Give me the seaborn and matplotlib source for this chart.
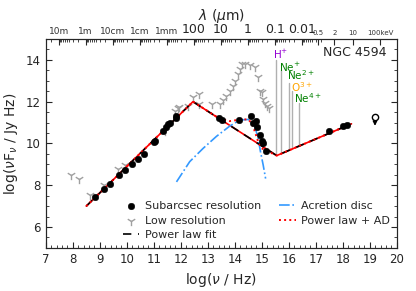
import numpy as np
import pandas as pd
import matplotlib
matplotlib.use("Agg")
import matplotlib.pyplot as plt
import seaborn as sns

# subarcsec resolution photometry
sub_lognu = [8.81, 9.16, 9.37, 9.70, 9.95, 10.21, 10.40, 10.65, 11.00, 11.04,
             11.34, 11.44, 11.53, 11.59, 11.84, 11.84, 13.42, 13.54, 14.16, 14.59,
             14.68, 14.78, 14.83, 14.93, 14.99, 15.05, 15.15, 17.49, 18.01, 18.17]
sub_lognuf = [7.43, 7.83, 8.07, 8.48, 8.75, 9.04, 9.24, 9.51, 10.05, 10.13,
              10.62, 10.78, 10.91, 10.99, 11.23, 11.31, 11.23, 11.12, 11.10, 11.31,
              10.99, 11.07, 10.78, 10.42, 10.10, 10.01, 9.65, 10.62, 10.83, 10.86]

# low resolution photometry
low_lognu = [7.92, 8.22, 8.62, 9.15, 9.68, 9.95, 11.41, 11.78, 11.90, 11.94, 12.27,
             12.45, 12.67, 12.68, 13.14, 13.44, 13.57, 13.69, 13.81, 13.94, 14.02,
             14.12, 14.19, 14.25, 14.37, 14.56, 14.74, 14.86, 14.93, 14.99, 15.05,
             15.11, 15.20, 15.27]
low_lognuf = [8.50, 8.30, 7.51, 8.02, 8.80, 8.95, 10.58, 11.55, 11.71, 11.76, 11.80,
              12.22, 12.36, 11.88, 11.88, 11.88, 12.07, 12.28, 12.52, 12.77, 13.00,
              13.33, 13.58, 13.82, 13.82, 13.74, 13.66, 13.17, 12.52, 12.44, 12.12,
              11.96, 11.80, 11.71]

# upper limit
lim_lognu = [19.19]
lim_lognuf = [11.26]

# broken power law fit
pl_lognu = [8.50, 12.45, 15.55, 18.32]
pl_lognuf = [7.00, 12.00, 9.42, 10.94]

# accretion disc
ad_lognu = [11.84, 12.33, 12.83, 13.32, 13.81, 14.19, 14.49, 14.74, 14.86, 14.95, 15.05, 15.14]
ad_lognuf = [8.16, 9.13, 9.77, 10.34, 10.83, 11.12, 11.15, 10.83, 10.26, 9.61, 8.97, 8.32]

# power law + accretion disc
pad_lognu = [8.50, 12.45, 13.42, 13.81, 14.25, 14.49, 14.62, 14.74, 14.86, 14.99, 15.10, 15.55, 18.32]
pad_lognuf = [7.00, 12.00, 11.20, 11.07, 11.15, 11.15, 10.99, 10.58, 10.10, 9.77, 9.70, 9.42, 10.94]

# ionisation edges
ion_names = ["H$^{+}$", "Ne$^{+}$", "Ne$^{2+}$", "O$^{3+}$", "Ne$^{4+}$"]
ion_lognu = [15.52, 15.72, 16.00, 16.12, 16.37]
ion_top = [14.00, 13.50, 12.90, 12.50, 11.95]
ion_colors = ["darkviolet", "green", "green", "orange", "green"]
ion_text_x = [15.42, 15.63, 15.93, 16.07, 16.19]
ion_text_y = [14.27, 13.66, 13.25, 12.68, 12.17]

# top axis labels
wl_big_labels = ["100", "10", "1", "0.1", "0.01"]
wl_big_m = [1e-4, 1e-5, 1e-6, 1e-7, 1e-8]
wl_small_labels = ["10m", "1m", "10cm", "1cm", "1mm"]
wl_small_m = [10.0, 1.0, 0.1, 0.01, 0.001]
kev_labels = ["0.5", "2", "10", "100keV"]
kev_vals = [0.5, 2.0, 10.0, 100.0]

sns.set_style("ticks")
plt.rcParams["font.family"] = ["DejaVu Sans"]
plt.rcParams["xtick.direction"] = "in"
plt.rcParams["ytick.direction"] = "in"

fig, ax = plt.subplots(figsize=(4.16, 2.91), dpi=100)
fig.subplots_adjust(left=0.11, right=0.954, bottom=0.148, top=0.866)

sub = pd.DataFrame({"x": sub_lognu, "y": sub_lognuf})
low = pd.DataFrame({"x": low_lognu, "y": low_lognuf})
pl = pd.DataFrame({"x": pl_lognu, "y": pl_lognuf})
ad = pd.DataFrame({"x": ad_lognu, "y": ad_lognuf})
pad = pd.DataFrame({"x": pad_lognu, "y": pad_lognuf})

# ion lines
pl_at_ion = np.interp(ion_lognu, pl_lognu, pl_lognuf)
for xi, top, lo in zip(ion_lognu, ion_top, pl_at_ion):
    ax.plot([xi, xi], [lo, top], color="#b0b0b0", lw=1, zorder=1)
for name, tx, ty, c in zip(ion_names, ion_text_x, ion_text_y, ion_colors):
    ax.text(tx, ty, name, color=c, fontsize=7.5, ha="left", va="center")

sns.scatterplot(data=low, x="x", y="y", ax=ax, marker="1", color="#a0a0a0",
                s=45, linewidth=1, label="Low resolution", zorder=2)
sns.lineplot(data=pl, x="x", y="y", ax=ax, sort=False, color="red", lw=1.2,
             zorder=3)
sns.lineplot(data=pl, x="x", y="y", ax=ax, sort=False, color="k", lw=1.2,
             linestyle=(0, (5, 4)), label="Power law fit", zorder=4)
sns.lineplot(data=ad, x="x", y="y", ax=ax, sort=False, color="#3399ff", lw=1.2,
             linestyle="-.", label="Acretion disc", zorder=3)
sns.lineplot(data=pad, x="x", y="y", ax=ax, sort=False, color="red", lw=1.4,
             linestyle=":", label="Power law + AD", zorder=5)
sns.scatterplot(data=sub, x="x", y="y", ax=ax, color="k", s=22, edgecolor="k",
                label="Subarcsec resolution", zorder=6)

# upper limit
ax.plot(lim_lognu, lim_lognuf, marker="o", mfc="white", mec="k", ms=4.5,
        ls="none", zorder=6)
ax.annotate("", xy=(lim_lognu[0], lim_lognuf[0] - 0.55),
            xytext=(lim_lognu[0], lim_lognuf[0] - 0.1),
            arrowprops=dict(arrowstyle="-|>", color="k", lw=1, mutation_scale=6))

ax.text(19.63, 14.37, "NGC 4594", fontsize=9, ha="right", va="center")

ax.set_xlim(7, 20)
ax.set_ylim(5, 15)
ax.set_xticks(range(7, 21))
ax.set_xticks(np.arange(7, 20.01, 0.2), minor=True)
ax.set_yticks([6, 8, 10, 12, 14])
ax.set_yticks(np.arange(5, 15.01, 0.5), minor=True)
ax.tick_params(which="both", right=True, labelsize=8.5)
ax.tick_params(which="major", length=4)
ax.tick_params(which="minor", length=2)
ax.set_xlabel("log($\\nu$ / Hz)", fontsize=10)
ax.set_ylabel("log($\\nu$F$_\\nu$ / Jy Hz)", fontsize=10)

handles, labels = ax.get_legend_handles_labels()
order = ["Subarcsec resolution", "Low resolution", "Power law fit",
         "Acretion disc", "Power law + AD"]
hmap = dict(zip(labels, handles))
ax.legend([hmap[o] for o in order], order, ncol=2, frameon=False, fontsize=8,
          loc="lower center", bbox_to_anchor=(0.6, -0.01), handlelength=1.5,
          columnspacing=1.6, handletextpad=0.5, labelspacing=0.4)

# top axis: wavelength and energy
c = 2.998e8
h = 6.626e-34
ev = 1.602e-19
top = ax.twiny()
top.set_xlim(ax.get_xlim())
pos_small = [np.log10(c / w) for w in wl_small_m]
pos_big = [np.log10(c / w) for w in wl_big_m]
pos_kev = [np.log10(e * 1e3 * ev / h) for e in kev_vals]
top.set_xticks(pos_small + pos_big + pos_kev)
top.set_xticklabels(wl_small_labels + wl_big_labels + kev_labels)
for i, lab in enumerate(top.get_xticklabels()):
    if i < len(pos_small):
        lab.set_fontsize(6.5)
        lab.set_color("#333333")
    elif i < len(pos_small) + len(pos_big):
        lab.set_fontsize(9)
    else:
        lab.set_fontsize(5)
        lab.set_color("#333333")
minor = []
for k in range(-9, 2):
    for m in range(2, 10):
        p = np.log10(c / (m * 10.0 ** k))
        if 7 <= p <= 20:
            minor.append(p)
top.set_xticks(minor, minor=True)
top.tick_params(which="major", length=4, pad=2)
top.tick_params(which="minor", length=2)
top.set_xlabel("$\\lambda$ ($\\mu$m)", fontsize=10, labelpad=2)

fig.savefig("out.png", dpi=100)
